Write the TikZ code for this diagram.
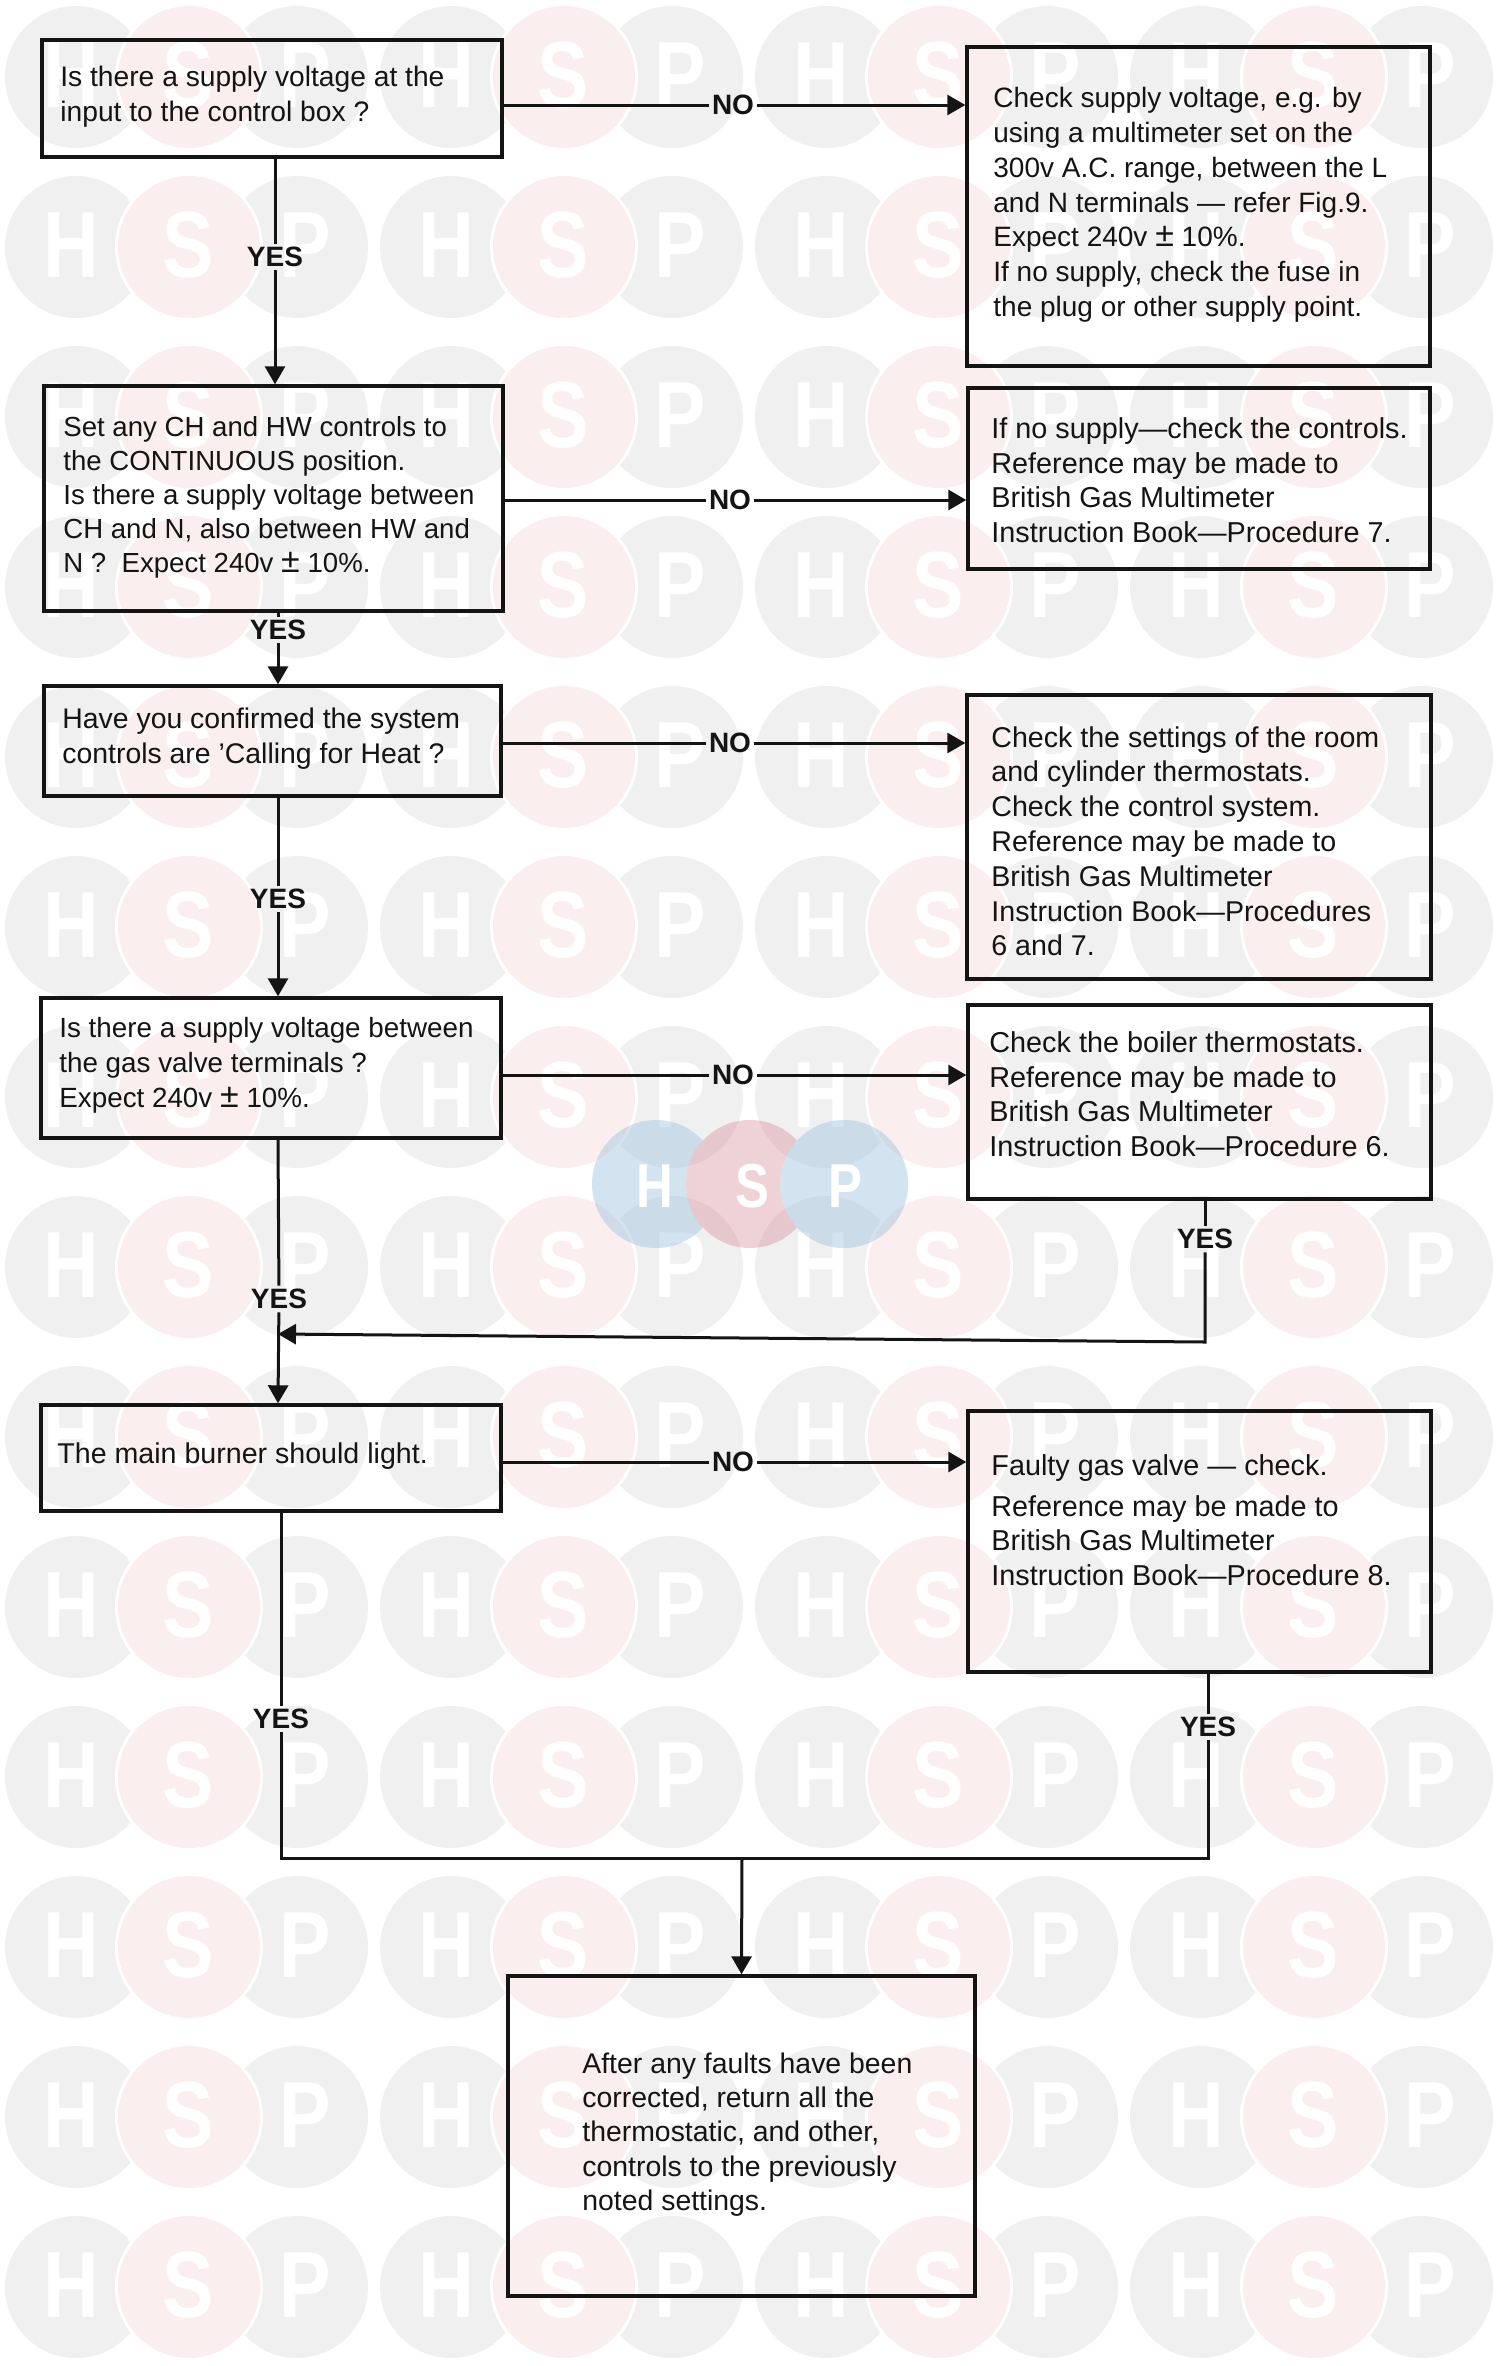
\documentclass[tikz,border=0pt]{standalone}
\usepackage{fontspec}
\setmainfont{Liberation Sans}
\usetikzlibrary{arrows.meta}
\definecolor{ink}{HTML}{141414}
\definecolor{wmg}{HTML}{F0F0F0}
\definecolor{wmp}{HTML}{FAEEEE}
\definecolor{lgb}{HTML}{A8C8E0}
\definecolor{lgp}{HTML}{D88E98}
\tikzset{
  boxstyle/.style={draw=ink,line width=1.7pt,inner sep=0pt,fill=none},
  txt/.style={anchor=north west,inner sep=0pt,align=left,text=ink,font=\fontsize{#1}{17.4}\selectfont},
  lab/.style={text=ink,inner sep=1.5pt,font=\bfseries\fontsize{14}{16}\selectfont},
  conn/.style={draw=ink,line width=1.5pt},
  arr/.style={conn,-{Triangle[length=9pt,width=10pt]}},
  wmletter/.style={text=white,inner sep=0pt,font=\bfseries\fontsize{47}{47}\selectfont},
  logoletter/.style={text=white,inner sep=0pt,font=\bfseries\fontsize{31}{31}\selectfont}
}
\newcommand\bx[5]{\node[boxstyle,minimum width={(#4-#2)*0.5pt},minimum height={(#5-#3)*0.5pt}] (#1) at ({(#2+#4)/2},{(#3+#5)/2}) {};}
\newcommand\nrw[1]{\scalebox{0.82}[1]{#1}}
\newcommand\plmi{{\fontsize{17}{17}\selectfont ±}}
\begin{document}
\begin{tikzpicture}[x=0.5pt,y=-0.5pt]
\useasboundingbox (0,0) rectangle (1500,2366);
% watermark
\foreach \ry in {77,247,417,587,757,927,1097,1267,1437,1607,1777,1947,2117,2287}{
  \foreach \rx in {0,375,750,1125}{
    \fill[wmg] ({76+\rx},\ry) circle[radius=71];
    \fill[wmg] ({297+\rx},\ry) circle[radius=71];
    \fill[white] ({189+\rx},\ry) circle[radius=74];
    \fill[wmp] ({189+\rx},\ry) circle[radius=71];
    \node[wmletter] (wh\rx-\ry) at ({71+\rx},{\ry-2}) {\nrw{H}};
    \node[wmletter] (ws\rx-\ry) at ({188+\rx},{\ry-2}) {\nrw{S}};
    \node[wmletter] (wp\rx-\ry) at ({305+\rx},{\ry-2}) {\nrw{P}};
  }
}
\begin{scope}[even odd rule]
  \clip (0,0) rectangle (1500,2366) (750,1184) circle[radius=64];
  \fill[lgb,fill opacity=.5] (656,1184) circle[radius=64];
\end{scope}
\begin{scope}[even odd rule]
  \clip (0,0) rectangle (1500,2366) (844,1184) circle[radius=64];
  \fill[lgp,fill opacity=.4] (750,1184) circle[radius=64];
\end{scope}
\fill[lgb,fill opacity=.5] (844,1184) circle[radius=64];
\node[logoletter] (lh) at (655,1186) {\nrw{H}};
\node[logoletter] (ls) at (752,1186) {\nrw{S}};
\node[logoletter] (lp) at (845,1186) {\nrw{P}};
% boxes
\bx{b1}{42}{40}{502}{157}
\bx{b2}{44}{386}{503}{611}
\bx{b3}{44}{686}{501}{796}
\bx{b4}{41}{998}{501}{1138}
\bx{b5}{41}{1405}{501}{1511}
\bx{r1}{967}{47}{1430}{366}
\bx{r2}{968}{388}{1430}{569}
\bx{r3}{967}{695}{1431}{979}
\bx{r4}{968}{1005}{1431}{1199}
\bx{r5}{968}{1411}{1431}{1672}
\bx{fin}{508}{1976}{975}{2296}
% texts
\node[txt=14.1] (t1) at (60,66) {Is there a supply voltage at the\\input to the control box ?};
\node[txt=13.8,font=\fontsize{13.8}{17}\selectfont] (t2) at (63,416) {Set any CH and HW controls to\\the CONTINUOUS position.\\Is there a supply voltage between\\CH and N, also between HW and\\N ?\ \ Expect 240v \plmi{} 10\%.};
\node[txt=14.2] (t3) at (62,708) {Have you confirmed the system\\controls are 'Calling for Heat ?};
\node[txt=13.9] (t4) at (59,1017) {Is there a supply voltage between\\the gas valve terminals ?\\Expect 240v \plmi{} 10\%.};
\node[txt=14.3] (t5) at (57,1442) {The main burner should light.};
\node[txt=14.0] (tr1) at (993,87) {Check supply voltage, e.g. by\\using a multimeter set on the\\300v A.C. range, between the L\\and N terminals — refer Fig.9.\\Expect 240v \plmi{} 10\%.\\If no supply, check the fuse in\\the plug or other supply point.};
\node[txt=14.4] (tr2) at (991,417) {If no supply—check the controls.\\Reference may be made to\\British Gas Multimeter\\Instruction Book—Procedure 7.};
\node[txt=14.3] (tr3) at (991,726) {Check the settings of the room\\and cylinder thermostats.\\Check the control system.\\Reference may be made to\\British Gas Multimeter\\Instruction Book—Procedures\\6 and 7.};
\node[txt=14.4] (tr4) at (989,1031) {Check the boiler thermostats.\\Reference may be made to\\British Gas Multimeter\\Instruction Book—Procedure 6.};
\node[txt=14.4] (tr5) at (991,1454) {Faulty gas valve — check.\\[3pt]Reference may be made to\\British Gas Multimeter\\Instruction Book—Procedure 8.};
\node[txt=14.2,font=\fontsize{14.2}{17.2}\selectfont] (tf) at (582,2052) {After any faults have been\\corrected, return all the\\thermostatic, and other,\\controls to the previously\\noted settings.};
% labels
\node[lab] (n1) at (733,105) {NO};
\node[lab] (n2) at (730,500) {NO};
\node[lab] (n3) at (730,743) {NO};
\node[lab] (n4) at (733,1075) {NO};
\node[lab] (n5) at (733,1462) {NO};
\node[lab] (y1) at (275,257) {YES};
\node[lab] (y2) at (278,630) {YES};
\node[lab] (y3) at (278,899) {YES};
\node[lab] (y4) at (279,1299) {YES};
\node[lab] (y5) at (281,1719) {YES};
\node[lab] (yr4) at (1205,1239) {YES};
\node[lab] (yr5) at (1208,1727) {YES};
\coordinate (j1) at (1205,1342);
\coordinate (j1b) at (278,1334);
\coordinate (j2) at (282,1858);
\coordinate (j3) at (1208,1858);
\coordinate (j4) at (742,1858);
% NO connectors
\foreach \a/\n/\b in {b1/n1/r1,b2/n2/r2,b3/n3/r3,b4/n4/r4,b5/n5/r5}{
  \draw[conn] (\a.east|-\n) -- (\n);
  \draw[arr] (\n) -- (\b.west|-\n);
}
% YES connectors
\draw[conn] (b1.south-|y1) -- (y1);
\draw[arr] (y1) -- (b2.north-|y1);
\draw[conn] (b2.south-|y2) -- (y2);
\draw[arr] (y2) -- (b3.north-|y2);
\draw[conn] (b3.south-|y3) -- (y3);
\draw[arr] (y3) -- (b4.north-|y3);
\draw[conn] (b4.south-|j1b) -- (y4);
\draw[arr] (y4) -- (b5.north-|j1b);
\draw[conn] (r4.south-|yr4) -- (yr4);
\draw[arr] (yr4) -- (j1) -- (j1b);
\draw[conn] (b5.south-|y5) -- (y5);
\draw[conn] (y5) -- (y5|-j2) -- (j3) -- (yr5);
\draw[conn] (yr5) -- (r5.south-|yr5);
\draw[arr] (j4) -- (fin.north);
\end{tikzpicture}
\end{document}
